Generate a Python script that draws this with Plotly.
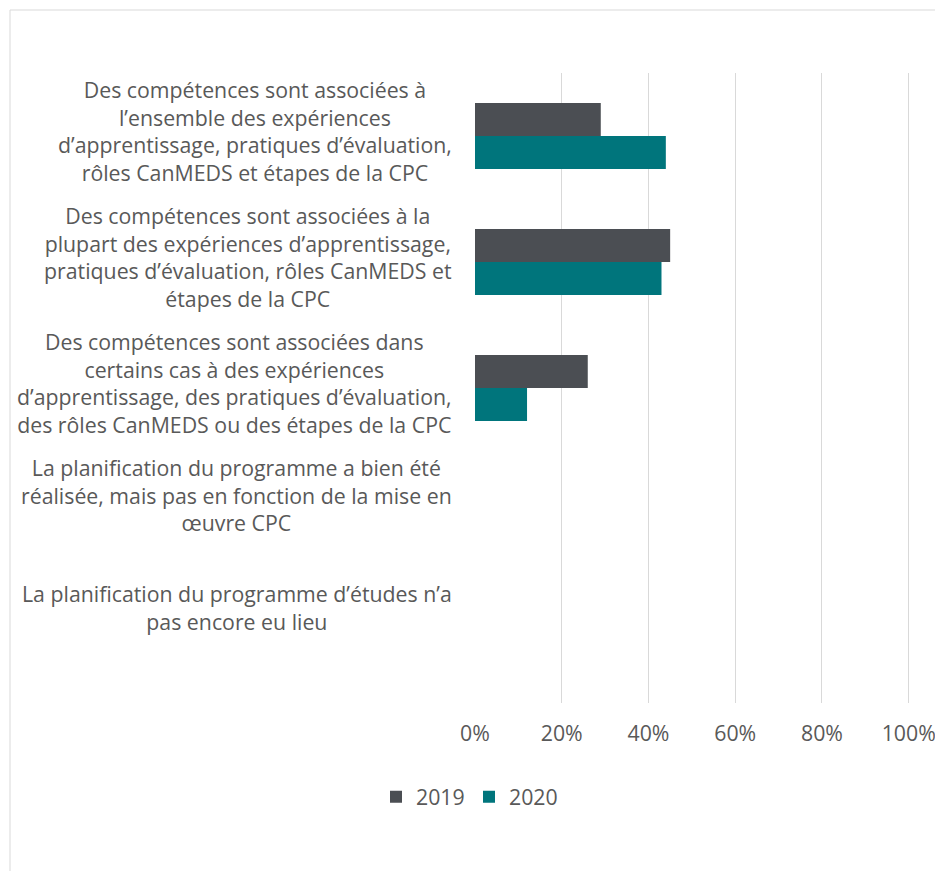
import plotly.graph_objects as go

categories = [
    "Des compétences sont associées à<br>l’ensemble des expériences<br>d’apprentissage, pratiques d’évaluation,<br>rôles CanMEDS et étapes de la CPC",
    "Des compétences sont associées à la<br>plupart des expériences d’apprentissage,<br>pratiques d’évaluation, rôles CanMEDS et<br>étapes de la CPC",
    "Des compétences sont associées dans<br>certains cas à des expériences<br>d’apprentissage, des pratiques d’évaluation,<br>des rôles CanMEDS ou des étapes de la CPC",
    "La planification du programme a bien été<br>réalisée, mais pas en fonction de la mise en<br>œuvre CPC",
    "La planification du programme d’études n’a<br>pas encore eu lieu",
]
cat_ids = ["c1", "c2", "c3", "c4", "c5"]
values_2019 = [0.29, 0.45, 0.26, 0.0, 0.0]
values_2020 = [0.44, 0.43, 0.12, 0.0, 0.0]
tick_vals = [0, 0.2, 0.4, 0.6, 0.8, 1.0]
tick_text = ["0%", "20%", "40%", "60%", "80%", "100%"]

FONT = "Open Sans"
TXT = "#595959"
FS = 21.3
PW = 435  # plot width in px

fig = go.Figure()
fig.add_trace(go.Bar(y=cat_ids, x=values_2019, name="2019", orientation="h",
                     marker=dict(color="#4B4E53", line=dict(width=0))))
fig.add_trace(go.Bar(y=cat_ids, x=values_2020, name="2020", orientation="h",
                     marker=dict(color="#00757C", line=dict(width=0))))

annotations = []
for i, lab in enumerate(categories):
    annotations.append(dict(
        x=-21 / PW, xref="paper", y=i - 0.5, yref="y",
        text=lab, showarrow=False, xanchor="right", yanchor="top",
        align="center", font=dict(family=FONT, size=FS, color=TXT),
    ))

fig.update_layout(
    width=927, height=863,
    margin=dict(l=467, r=927 - 467 - PW, t=65, b=168, autoexpand=False),
    paper_bgcolor="white", plot_bgcolor="white",
    barmode="group", bargap=0.476, bargroupgap=0,
    font=dict(family=FONT, size=FS, color=TXT),
    xaxis=dict(range=[0, 1.003], tickvals=tick_vals, ticktext=tick_text,
               showgrid=True, gridcolor="#d9d9d9", gridwidth=1,
               zeroline=False, showline=False, ticklabelstandoff=16,
               automargin=False, ticklabeloverflow="allow",
               tickfont=dict(family=FONT, size=FS, color=TXT)),
    yaxis=dict(categoryorder="array", categoryarray=cat_ids, range=[4.5, -0.5],
               autorange=False, showticklabels=False, showgrid=False,
               zeroline=False, showline=False, automargin=False),
    legend=dict(orientation="h", x=-6 / PW, xanchor="center", y=-0.149, yanchor="middle",
                font=dict(family=FONT, size=FS, color=TXT), traceorder="normal",
                itemwidth=30, entrywidth=48),
    annotations=annotations,
    shapes=[dict(type="rect", xref="paper", yref="paper",
                 x0=(2 - 467) / PW, x1=(960 - 467) / PW,
                 y0=-(900 - 695) / 630, y1=1 + (65 - 2) / 630,
                 line=dict(color="#d9d9d9", width=1), fillcolor="rgba(0,0,0,0)",
                 layer="below")],
)

fig.write_html("out.html")
